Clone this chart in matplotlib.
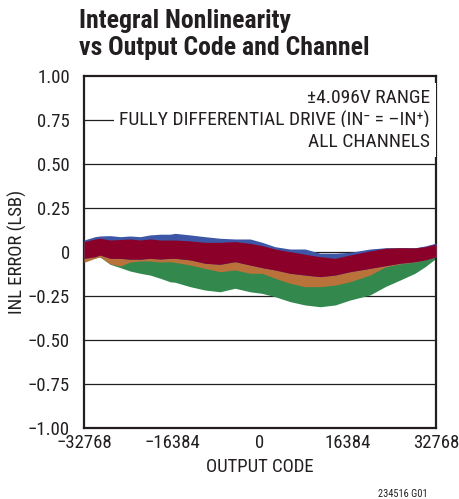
import numpy as np
import matplotlib.pyplot as plt
from matplotlib import font_manager

# output code positions where the band edges were read
codes = [-32768, -30720, -29800, -27900, -26000, -24200, -22300, -20480, -18600,
         -16750, -15800, -13000, -10240, -7450, -4650, -1850, 400, 2800, 5600,
         8400, 11200, 14000, 16750, 20480, 23300, 26100, 28850, 30720, 32768]

blue_top = [0.068, 0.087, 0.091, 0.093, 0.087, 0.091, 0.087, 0.097, 0.101, 0.101,
            0.106, 0.097, 0.087, 0.078, 0.074, 0.074, 0.055, 0.030, 0.017, 0.017,
            -0.007, -0.007, -0.002, 0.017, 0.024, 0.024, 0.024, 0.034, 0.051]
red_top = [0.059, 0.074, 0.078, 0.068, 0.071, 0.074, 0.068, 0.074, 0.068, 0.068,
           0.068, 0.063, 0.055, 0.055, 0.059, 0.049, 0.036, 0.017, 0.002, -0.013,
           -0.027, -0.036, -0.017, 0.006, 0.021, 0.024, 0.023, 0.030, 0.044]
red_bot = [-0.036, -0.027, -0.017, -0.036, -0.036, -0.041, -0.041, -0.036, -0.040,
           -0.036, -0.036, -0.045, -0.064, -0.070, -0.055, -0.074, -0.089, -0.102,
           -0.121, -0.131, -0.140, -0.131, -0.112, -0.093, -0.078, -0.064, -0.055,
           -0.045, -0.027]
orange_bot = [-0.059, -0.036, -0.027, -0.068, -0.080, -0.057, -0.051, -0.051, -0.057,
              -0.055, -0.059, -0.074, -0.093, -0.112, -0.102, -0.121, -0.121, -0.149,
              -0.178, -0.197, -0.197, -0.188, -0.169, -0.131, -0.085, -0.068, -0.057,
              -0.045, -0.028]
green_bot = [-0.051, -0.034, -0.028, -0.070, -0.089, -0.108, -0.121, -0.131, -0.149,
             -0.169, -0.172, -0.197, -0.216, -0.226, -0.206, -0.226, -0.235, -0.254,
             -0.282, -0.301, -0.311, -0.301, -0.273, -0.244, -0.197, -0.159, -0.121,
             -0.084, -0.036]

yticks = [1.0, 0.75, 0.5, 0.25, 0, -0.25, -0.5, -0.75, -1.0]
ylabels = ["1.00", "0.75", "0.50", "0.25", "0", "\u22120.25", "\u22120.50", "\u22120.75", "\u22121.00"]
xticks = [-32768, -16384, 0, 16384, 32768]
xlabels = ["\u221232768", "\u221216384", "0", "16384", "32768"]
notes = ["\u00b14.096V RANGE", "FULLY DIFFERENTIAL DRIVE (IN\u207b = \u2013IN\u207a)", "ALL CHANNELS"]

# look for a narrow face, the reference uses condensed Helvetica
names = set(f.name for f in font_manager.fontManager.ttflist)
stretch = "normal"
fam = "Liberation Sans"
for cand in ["Liberation Sans Narrow", "Roboto Condensed", "Open Sans Condensed", "DejaVu Sans Condensed"]:
    if cand in names:
        fam = cand
        break
else:
    if any(f.name == "DejaVu Sans" and f.stretch == "condensed" for f in font_manager.fontManager.ttflist):
        fam = "DejaVu Sans"
        stretch = "condensed"

plt.rcParams['font.family'] = [fam, 'DejaVu Sans']
plt.rcParams['font.stretch'] = stretch
ink = "#231f20"

fig = plt.figure(figsize=(4.6, 4.99), dpi=100)
ax = fig.add_axes([84/460, 71/499, 352/460, 352/499])

ax.fill_between(codes, red_top, green_bot, color="#33884e", lw=0, zorder=2)
ax.fill_between(codes, red_top, orange_bot, color="#b9733a", lw=0, zorder=3)
ax.fill_between(codes, blue_top, red_bot, color="#3d56a6", lw=0, zorder=4)
ax.fill_between(codes, red_top, red_bot, color="#8b0029", lw=0, zorder=5)

ax.set_xlim(-32768, 32768)
ax.set_ylim(-1, 1)
ax.set_yticks(yticks)
ax.set_yticklabels(ylabels)
ax.set_xticks(xticks)
ax.set_xticklabels(xlabels)
ax.tick_params(length=0, labelsize=13.5, colors=ink)
ax.tick_params(axis="y", pad=10)
ax.tick_params(axis="x", pad=4.5)
for y in yticks[1:-1]:
    ax.axhline(y, color=ink, lw=0.9, zorder=1)
for s in ax.spines.values():
    s.set_linewidth(1.6)
    s.set_color(ink)

ax.set_xlabel("OUTPUT CODE", fontsize=13.5, color=ink, labelpad=4)
ax.set_ylabel("INL ERROR (LSB)", fontsize=13.5, color=ink, labelpad=1)

box = dict(facecolor="white", edgecolor="none", pad=4)
for i, s in enumerate(notes):
    ax.text(0.983, 0.9375 - 0.0625 * i, s, transform=ax.transAxes, ha="right", va="center",
            fontsize=14, color=ink, bbox=box, zorder=6)

fig.text(79/460, 1 - 28/499, "Integral Nonlinearity", fontsize=18.5, fontweight="bold",
         color=ink, va="baseline")
fig.text(79/460, 1 - 55/499, "vs Output Code and Channel", fontsize=18.5, fontweight="bold",
         color=ink, va="baseline")
fig.text(428/460, 1 - 497/499, "234516 G01", fontsize=7.5, color=ink, ha="right", va="baseline")

fig.savefig("out.png", dpi=100)
